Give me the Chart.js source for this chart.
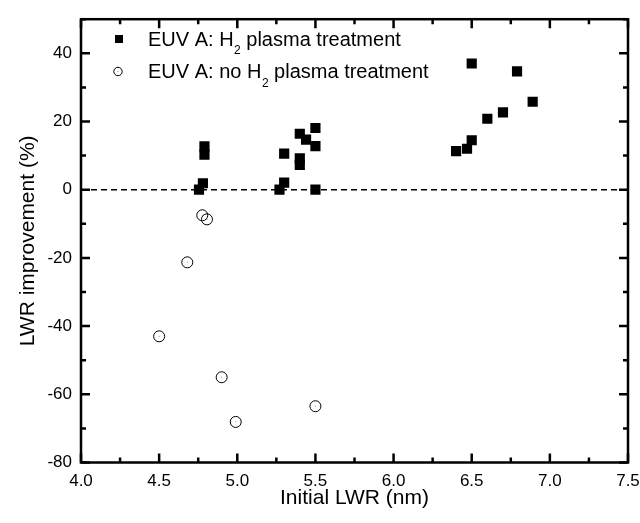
<!DOCTYPE html>
<html><head><meta charset="utf-8">
<script src="https://cdn.jsdelivr.net/npm/chart.js@4/dist/chart.umd.min.js"></script>
<style>html,body{margin:0;padding:0;background:#fff}</style>
</head><body>
<canvas id="c" width="640" height="523"></canvas>
<script>
// ---- data ----
const h2X = [4.755, 4.78, 4.79, 4.79, 5.27, 5.30, 5.30, 5.40, 5.40, 5.40, 5.44, 5.50, 5.50, 5.50, 6.40, 6.47, 6.50, 6.50, 6.60, 6.70, 6.79, 6.89];
const h2Y = [0, 1.9, 12.7, 10.3, 0, 2.1, 10.6, 16.4, 9.2, 7.3, 14.7, 18.1, 12.8, 0, 11.3, 12.0, 14.5, 37.0, 20.8, 22.7, 34.7, 25.8];
const noH2X = [4.776, 4.806, 4.68, 4.50, 4.90, 4.99, 5.50];
const noH2Y = [-7.5, -8.7, -21.3, -43.0, -55.0, -68.1, -63.5];
const refLineX = [4.0, 7.5];
const refLineY = [0, 0];
const xMajorTicks = [4.0, 4.5, 5.0, 5.5, 6.0, 6.5, 7.0, 7.5];
const xMinorTicks = [4.25, 4.75, 5.25, 5.75, 6.25, 6.75, 7.25];
const yMajorTicks = [-80, -60, -40, -20, 0, 20, 40];
const yMinorTicks = [-70, -50, -30, -10, 10, 30, 50];
const xRange = [4.0, 7.5];
const yRange = [-80, 50];
const xTitle = 'Initial LWR (nm)';
const yTitle = 'LWR improvement (%)';
const legendItems = [
  {pre: 'EUV A: H', sub: '2', post: ' plasma treatment', ds: 0},
  {pre: 'EUV A: no H', sub: '2', post: ' plasma treatment', ds: 1}
];

const FONT = '"Liberation Sans", Arial, sans-serif';
const toPts = (xs, ys) => xs.map((x, i) => ({x, y: ys[i]}));

const framePlugin = {
  id: 'frame',
  afterDraw(chart) {
    const {ctx, chartArea: a, scales: {x, y}} = chart;
    ctx.save();
    ctx.strokeStyle = '#000';
    ctx.lineWidth = 2.5;
    ctx.lineCap = 'butt';
    ctx.beginPath();
    const tick = (vals, len) => {
      vals.forEach(v => {
        const px = x.getPixelForValue(v);
        ctx.moveTo(px, a.bottom); ctx.lineTo(px, a.bottom - len);
        ctx.moveTo(px, a.top); ctx.lineTo(px, a.top + len);
      });
    };
    const ticky = (vals, len) => {
      vals.forEach(v => {
        const py = y.getPixelForValue(v);
        ctx.moveTo(a.left, py); ctx.lineTo(a.left + len, py);
        ctx.moveTo(a.right, py); ctx.lineTo(a.right - len, py);
      });
    };
    tick(xMajorTicks, 9); tick(xMinorTicks, 5);
    ticky(yMajorTicks, 9); ticky(yMinorTicks, 5);
    ctx.stroke();
    ctx.strokeRect(a.left, a.top, a.right - a.left, a.bottom - a.top);

    // tiny centre dots in open circles
    ctx.fillStyle = '#888';
    chart.getDatasetMeta(1).data.forEach(p => ctx.fillRect(p.x - 0.5, p.y - 0.5, 1, 1));

    // legend
    const mx = 119, tx = 148;
    const rows = [45.5, 78];
    legendItems.forEach((it, i) => {
      const ds = chart.data.datasets[it.ds];
      const base = rows[i];
      const cy = base - 6.5;
      ctx.lineWidth = 1;
      if (ds.pointStyle === 'rect') {
        ctx.fillStyle = '#000';
        ctx.fillRect(mx - 4, cy - 4, 8, 8);
      } else {
        ctx.strokeStyle = '#000';
        ctx.beginPath(); ctx.arc(mx - 1, cy, 4.2, 0, Math.PI * 2); ctx.stroke();
        ctx.fillStyle = '#888'; ctx.fillRect(mx - 1.5, cy - 0.5, 1, 1);
      }
      ctx.fillStyle = '#000';
      ctx.textBaseline = 'alphabetic';
      ctx.textAlign = 'left';
      ctx.font = '20px ' + FONT;
      ctx.fillText(it.pre, tx, base);
      let w = ctx.measureText(it.pre).width;
      ctx.font = '12px ' + FONT;
      ctx.fillText(it.sub, tx + w + 0.5, base + 8.5);
      w += ctx.measureText(it.sub).width + 0.5;
      ctx.font = '20px ' + FONT;
      ctx.fillText(it.post, tx + w, base);
    });
    ctx.restore();
  }
};

new Chart(document.getElementById('c'), {
  type: 'scatter',
  data: {
    datasets: [
      {label: 'EUV A: H2 plasma treatment', data: toPts(h2X, h2Y), pointStyle: 'rect', pointRadius: 7.2,
       backgroundColor: '#000', borderColor: '#000', borderWidth: 0, order: 1},
      {label: 'EUV A: no H2 plasma treatment', data: toPts(noH2X, noH2Y), pointStyle: 'circle', pointRadius: 5.5,
       backgroundColor: 'rgba(0,0,0,0)', borderColor: '#000', borderWidth: 1, order: 0},
      {label: 'ref', data: toPts(refLineX, refLineY), showLine: true, pointRadius: 0, borderColor: '#000',
       borderWidth: 1.5, borderDash: [6, 4], order: 10}
    ]
  },
  options: {
    responsive: false,
    animation: false,
    devicePixelRatio: 1,
    layout: {padding: {top: 15, right: 0, left: 0, bottom: 0}},
    plugins: {legend: {display: false}, tooltip: {enabled: false}},
    scales: {
      x: {
        type: 'linear', min: xRange[0], max: xRange[1],
        grid: {display: false, drawTicks: false},
        border: {display: false},
        afterBuildTicks: s => { s.ticks = xMajorTicks.map(v => ({value: v})); },
        afterFit: s => { s.height = 60.5; s.paddingRight = 12; },
        ticks: {autoSkip: false, maxRotation: 0, padding: 9, color: '#000',
                font: {family: FONT, size: 17}, callback: v => Number(v).toFixed(1)},
        title: {display: true, text: xTitle, color: '#000', font: {family: FONT, size: 21},
                padding: {top: 0, bottom: 12}}
      },
      y: {
        type: 'linear', min: yRange[0], max: yRange[1],
        grid: {display: false, drawTicks: false},
        border: {display: false},
        afterBuildTicks: s => { s.ticks = yMajorTicks.map(v => ({value: v})); },
        afterFit: s => { s.width = 81; },
        ticks: {autoSkip: false, padding: 9, color: '#000',
                font: {family: FONT, size: 17}, callback: v => String(v)},
        title: {display: true, text: yTitle, color: '#000', font: {family: FONT, size: 21},
                padding: {top: 16, bottom: 0}}
      }
    }
  },
  plugins: [framePlugin]
});
</script>
</body></html>
